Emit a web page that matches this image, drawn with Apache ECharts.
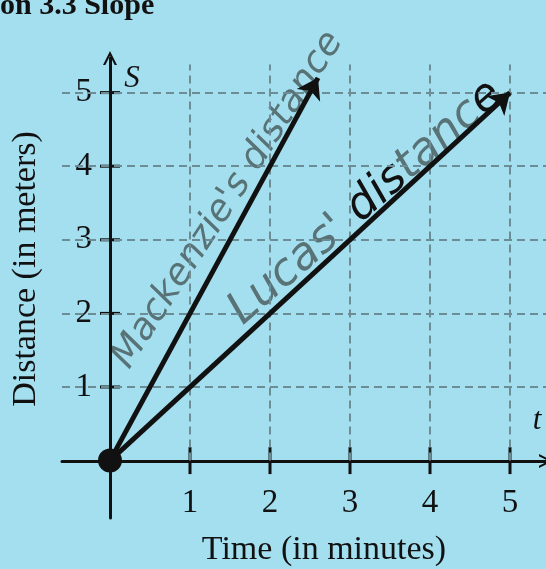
<!DOCTYPE html>
<html><head><meta charset="utf-8">
<script src="https://cdn.jsdelivr.net/npm/echarts@6/dist/echarts.min.js"></script>
<style>html,body{margin:0;padding:0;background:#a4dff0;}#c{width:546px;height:569px;}</style>
</head><body><div id="c"></div>
<script>
// ---- data ----
const tTicks = [1, 2, 3, 4, 5];          // time (minutes)
const sTicks = [1, 2, 3, 4, 5];          // distance (meters)
const origin = [0, 0];
const mackenzieEnd = [2.6, 5.2];
const lucasEnd = [5, 5];
const titleText = 'on 3.3 Slope';
const xName = 'Time (in minutes)';
const yName = 'Distance (in meters)';
const mackLabel = "Mackenzie's distance";

const serif = '"Liberation Serif","Times New Roman",serif';
const ink = '#111';
const hand = '#587276';
const chevronUp = 'path://M0,12 L6,0 L12,12 L10,12 L6,4 L2,12 Z';

const chart = echarts.init(document.getElementById('c'), null, {renderer: 'canvas'});
const gridLines = [];
tTicks.forEach(v => gridLines.push([{coord: [v, 0]}, {coord: [v, 5.38]}]));
sTicks.forEach(v => gridLines.push([{coord: [-0.6, v]}, {coord: [5.45, v]}]));

chart.setOption({
  animation: false,
  backgroundColor: '#a4dff0',
  grid: {left: 62, right: 0, top: 58, bottom: 51, containLabel: false, outerBoundsMode: 'none'},
  xAxis: {
    type: 'value', min: -0.6, max: 5.45, offset: -57,
    axisLine: {onZero: false, symbol: ['none', chevronUp], symbolSize: [14, 14],
      lineStyle: {color: ink, width: 3}},
    axisTick: {show: false},
    splitLine: {show: false},
    axisLabel: {customValues: tTicks, margin: 26, fontSize: 33, fontFamily: serif, color: ink}
  },
  yAxis: {
    type: 'value', min: -0.78, max: 5.47, offset: -48,
    axisLine: {onZero: false, symbol: ['none', chevronUp], symbolSize: [14, 14],
      lineStyle: {color: ink, width: 3}},
    axisTick: {show: false},
    splitLine: {show: false},
    axisLabel: {customValues: sTicks, margin: 18, fontSize: 33, fontFamily: serif, color: ink}
  },
  series: [
    {
      type: 'scatter', z: 1, silent: true, symbol: 'rect', symbolSize: [3, 27],
      itemStyle: {color: ink, opacity: 1},
      data: tTicks.map(v => [v, 0]),
      markLine: {
        silent: true, symbol: ['none', 'none'], label: {show: false},
        lineStyle: {color: '#6c8d95', width: 2, type: [8, 5]},
        data: gridLines
      }
    },
    {
      type: 'scatter', z: 2, silent: true, symbol: 'rect', symbolSize: [20, 3],
      itemStyle: {color: ink, opacity: 1},
      data: sTicks.map(v => [0, v])
    },
    {
      type: 'lines', coordinateSystem: 'cartesian2d', z: 5, silent: true,
      symbol: ['none', 'arrow'], symbolSize: 20,
      lineStyle: {color: ink, width: 5, opacity: 1, curveness: 0},
      data: [{coords: [origin, mackenzieEnd]}, {coords: [origin, lucasEnd]}]
    },
    {
      type: 'scatter', z: 6, silent: true, symbolSize: 24,
      itemStyle: {color: ink, opacity: 1},
      data: [origin]
    }
  ],
  graphic: [
    {type: 'text', x: 0, y: 6, style: {text: titleText, font: 'bold 30px ' + serif, fill: ink, textAlign: 'left', textVerticalAlign: 'middle'}},
    {type: 'text', x: 132, y: 79, style: {text: 'S', font: 'italic 31px ' + serif, fill: ink, textAlign: 'center', textVerticalAlign: 'middle'}},
    {type: 'text', x: 537, y: 421, style: {text: 't', font: 'italic 31px ' + serif, fill: ink, textAlign: 'center', textVerticalAlign: 'middle'}},
    {type: 'text', x: 324, y: 550, style: {text: xName, font: '34px ' + serif, fill: ink, textAlign: 'center', textVerticalAlign: 'middle'}},
    {type: 'text', x: 26, y: 269, rotation: Math.PI / 2, style: {text: yName, font: '34px ' + serif, fill: ink, textAlign: 'center', textVerticalAlign: 'middle'}},
    {type: 'text', x: 228, y: 200, rotation: 57 * Math.PI / 180, style: {text: mackLabel, font: 'italic 37px "DejaVu Sans"', fill: hand, textAlign: 'center', textVerticalAlign: 'middle'}},
    {type: 'text', x: 366, y: 203, rotation: 41 * Math.PI / 180, style: {
      text: "{g|Lucas' }{k|dis}{g|tanc}{k|e}", textAlign: 'center', textVerticalAlign: 'middle',
      rich: {
        g: {font: 'italic 45px "DejaVu Sans"', fill: hand, color: hand},
        k: {font: 'italic 45px "DejaVu Sans"', fill: ink, color: ink}
      }}}
  ]
});
</script>
</body></html>
